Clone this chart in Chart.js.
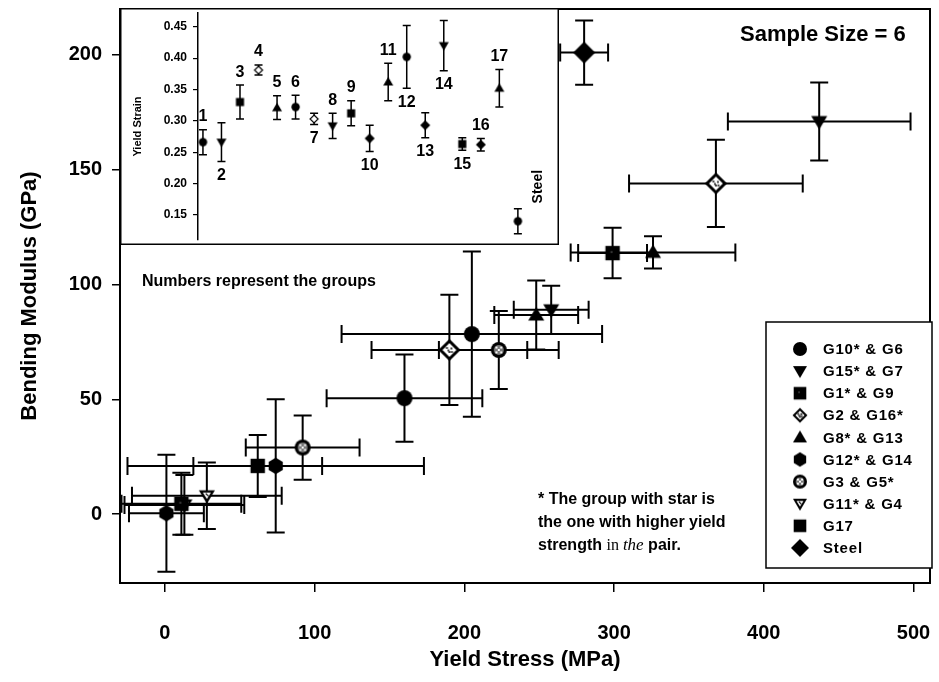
<!DOCTYPE html>
<html>
<head>
<meta charset="utf-8">
<script src="https://cdn.jsdelivr.net/npm/chart.js@4.4.1/dist/chart.umd.min.js"></script>
<style>
html, body { margin: 0; padding: 0; background: #fff; }
#wrap { position: relative; width: 939px; height: 682px; }
#main { position: absolute; left: 0; top: 0; }
#inset { position: absolute; left: 120px; top: 8px; }
</style>
</head>
<body>
<div id="wrap">
  <canvas id="main" width="939" height="682"></canvas>
  <canvas id="inset" width="439" height="237"></canvas>
</div>
<script>
// main plot: bending modulus vs yield stress, two groups per symbol
const seriesNames = ["G10* & G6", "G15* & G7", "G1* & G9", "G2 & G16*", "G8* & G13",
                     "G12* & G14", "G3 & G5*", "G11* & G4", "G17", "Steel"];
const stress     = [[160, 205], [258, 437], [11, 299], [190, 368], [248, 326], [1, 74], [92, 223], [28, 13], [62], [280]];
const stressErr  = [[52, 87], [25, 61], [40, 23], [52, 58], [28, 55], [25, 99], [38, 40], [50, 40], [43], [16]];
const modulus    = [[50.5, 78.4], [89, 171], [4.5, 113.7], [71.5, 144], [86.7, 114], [0.4, 21], [29, 71.5], [8, 4], [21], [201]];
const modulusErr = [[19, 36], [10.5, 17], [13.5, 11], [24, 19], [15, 7], [25.5, 29], [14, 17], [14.5, 13], [13.5], [14]];
const stressTicks = [0, 100, 200, 300, 400, 500];
const modulusTicks = [0, 50, 100, 150, 200];

// inset: yield strain per group
const groups = ["1", "2", "3", "4", "5", "6", "7", "8", "9", "10", "11", "12", "13", "14", "15", "16", "17", "Steel"];
const yieldStrain = [0.266, 0.266, 0.33, 0.381, 0.321, 0.322, 0.303, 0.292, 0.312, 0.272, 0.362, 0.402, 0.293, 0.42, 0.263, 0.262, 0.352, 0.14];
const strainErr   = [0.02, 0.031, 0.027, 0.008, 0.019, 0.019, 0.009, 0.02, 0.02, 0.021, 0.03, 0.05, 0.02, 0.04, 0.01, 0.01, 0.03, 0.02];
const strainTicks = [0.15, 0.20, 0.25, 0.30, 0.35, 0.40, 0.45];

const mainShapes = ["circle", "triDown", "squareTex", "diamondPat", "triUp", "hexagon", "circleDots", "triDownOpen", "square", "diamond"];
const insetShapes = ["circle", "triDown", "square", "diamondOpen", "triUp", "circle", "diamondOpen", "triDown", "square",
                     "diamond", "triUp", "circle", "diamond", "triDown", "square", "diamond", "triUp", "circle"];
const labelSide = ["up", "down", "up", "up", "up", "up", "down", "up", "up", "down", "up", "down", "down", "down", "down", "up", "up", "side"];

const FONT = "'Liberation Sans', Arial, Helvetica, sans-serif";
const SERIF = "'Liberation Serif', 'Times New Roman', serif";

function marker(shape, r) {
    const c = document.createElement("canvas");
    const s = Math.ceil(r * 2 + 4);
    c.width = s; c.height = s;
    const g = c.getContext("2d");
    const m = s / 2;
    g.fillStyle = "#000";
    g.strokeStyle = "#000";
    g.beginPath();
    if (shape === "circle") {
        g.arc(m, m, r, 0, Math.PI * 2);
        g.fill();
    } else if (shape === "hexagon") {
        for (let k = 0; k < 6; k++) {
            const a = -Math.PI / 2 + k * Math.PI / 3;
            g.lineTo(m + r * 1.02 * Math.cos(a), m + r * 1.02 * Math.sin(a));
        }
        g.closePath();
        g.fill();
    } else if (shape === "square" || shape === "squareTex") {
        const h = r * 0.9;
        g.fillRect(m - h, m - h, h * 2, h * 2);
        if (shape === "squareTex") {
            g.fillStyle = "#333";
            g.fillRect(m - h * 0.3, m - h * 0.3, h * 0.3, h * 0.3);
        }
    } else if (shape === "triDown" || shape === "triDownOpen") {
        g.moveTo(m - r, m - r * 0.7);
        g.lineTo(m + r, m - r * 0.7);
        g.lineTo(m, m + r);
        g.closePath();
        g.fill();
        if (shape === "triDownOpen") {
            g.beginPath();
            g.moveTo(m - r * 0.5, m - r * 0.4);
            g.lineTo(m + r * 0.5, m - r * 0.4);
            g.lineTo(m, m + r * 0.4);
            g.closePath();
            g.fillStyle = "#fff";
            g.fill();
            g.strokeStyle = "#000";
            g.lineWidth = 1.2;
            g.beginPath();
            g.moveTo(m - r * 0.15, m - r * 0.3);
            g.lineTo(m + r * 0.2, m + r * 0.05);
            g.stroke();
        }
    } else if (shape === "triUp") {
        g.moveTo(m - r, m + r * 0.7);
        g.lineTo(m + r, m + r * 0.7);
        g.lineTo(m, m - r);
        g.closePath();
        g.fill();
    } else if (shape === "diamond") {
        g.moveTo(m, m - r); g.lineTo(m + r, m); g.lineTo(m, m + r); g.lineTo(m - r, m);
        g.closePath();
        g.fill();
    } else if (shape === "diamondOpen" || shape === "diamondPat") {
        const rr = r - 1;
        g.moveTo(m, m - rr); g.lineTo(m + rr, m); g.lineTo(m, m + rr); g.lineTo(m - rr, m);
        g.closePath();
        g.fillStyle = "#fff";
        g.fill();
        g.lineWidth = shape === "diamondPat" ? Math.max(2, r * 0.3) : 1.2;
        g.stroke();
        if (shape === "diamondPat") {
            g.fillStyle = "#444";
            [[-0.25, -0.2], [0.2, -0.15], [0, 0.2], [-0.1, 0.05], [0.25, 0.2]].forEach(d => {
                g.fillRect(m + d[0] * r - 1, m + d[1] * r - 1, 2, 2);
            });
        }
    } else if (shape === "circleDots") {
        g.arc(m, m, r, 0, Math.PI * 2);
        g.fill();
        g.beginPath();
        g.arc(m, m, r * 0.62, 0, Math.PI * 2);
        g.fillStyle = "#777";
        g.fill();
        g.fillStyle = "#fff";
        [[-0.3, -0.3], [0.3, -0.3], [0, 0], [-0.3, 0.3], [0.3, 0.3]].forEach(d => {
            g.fillRect(m + d[0] * r - 1, m + d[1] * r - 1, 2, 2);
        });
    }
    return c;
}

const mainMarkers = mainShapes.map(s => marker(s, s === "diamond" ? 11 : (s === "diamondPat" ? 10 : 8)));
const legendMarkers = mainShapes.map(s => marker(s, s === "diamond" ? 9 : 7));

const mainDatasets = seriesNames.map((name, i) => ({
    label: name,
    data: stress[i].map((x, j) => ({ x: x, y: modulus[i][j], xErr: stressErr[i][j], yErr: modulusErr[i][j] })),
    pointStyle: mainMarkers[i],
    pointRadius: 8,
    showLine: false
}));

// no automatic label overflow padding, the plot box is fixed
function noPad(s) {
    s.paddingTop = 0; s.paddingBottom = 0; s.paddingLeft = 0; s.paddingRight = 0;
}

const errorBars = {
    id: "errorBars",
    beforeDatasetsDraw(chart, args, opts) {
        const { ctx, scales: { x, y } } = chart;
        const cap = opts.cap || 9;
        ctx.save();
        ctx.strokeStyle = "#000";
        ctx.lineWidth = opts.width || 2;
        chart.data.datasets.forEach(ds => {
            ds.data.forEach(p => {
                const px = x.getPixelForValue(p.x);
                const py = y.getPixelForValue(p.y);
                ctx.beginPath();
                if (p.xErr) {
                    const x0 = x.getPixelForValue(p.x - p.xErr);
                    const x1 = x.getPixelForValue(p.x + p.xErr);
                    ctx.moveTo(x0, py); ctx.lineTo(x1, py);
                    ctx.moveTo(x0, py - cap); ctx.lineTo(x0, py + cap);
                    ctx.moveTo(x1, py - cap); ctx.lineTo(x1, py + cap);
                }
                if (p.yErr) {
                    const y0 = y.getPixelForValue(p.y - p.yErr);
                    const y1 = y.getPixelForValue(p.y + p.yErr);
                    ctx.moveTo(px, y0); ctx.lineTo(px, y1);
                    ctx.moveTo(px - cap, y0); ctx.lineTo(px + cap, y0);
                    ctx.moveTo(px - cap, y1); ctx.lineTo(px + cap, y1);
                }
                ctx.stroke();
            });
        });
        ctx.restore();
    }
};

const mainDecor = {
    id: "mainDecor",
    beforeDraw(chart) {
        const ctx = chart.ctx;
        ctx.save();
        ctx.fillStyle = "#fff";
        ctx.fillRect(0, 0, chart.width, chart.height);
        ctx.restore();
    },
    afterDraw(chart) {
        const { ctx, chartArea: a } = chart;
        ctx.save();
        ctx.strokeStyle = "#000";
        ctx.lineWidth = 2;
        ctx.strokeRect(a.left, a.top, a.right - a.left, a.bottom - a.top);

        ctx.fillStyle = "#000";
        ctx.textBaseline = "middle";
        ctx.textAlign = "left";
        ctx.font = "bold 22px " + FONT;
        ctx.fillText("Sample Size = 6", 740, 35);
        ctx.font = "bold 16px " + FONT;
        ctx.fillText("Numbers represent the groups", 142, 282);

        // footnote
        ctx.font = "bold 16px " + FONT;
        ctx.fillText("* The group with star is", 538, 500);
        ctx.fillText("the one with higher yield", 538, 523);
        let tx = 538;
        const parts = [["strength ", "bold 16px " + FONT], ["in ", "16px " + SERIF], ["the", "italic 17px " + SERIF], [" pair.", "bold 16px " + FONT]];
        parts.forEach(p => {
            ctx.font = p[1];
            ctx.fillText(p[0], tx, 546);
            tx += ctx.measureText(p[0]).width;
        });

        // legend box
        ctx.fillStyle = "#fff";
        ctx.fillRect(766, 322, 166, 246);
        ctx.lineWidth = 1.5;
        ctx.strokeRect(766, 322, 166, 246);
        ctx.fillStyle = "#000";
        ctx.font = "bold 15px " + FONT;
        if ("letterSpacing" in ctx) ctx.letterSpacing = "0.8px";
        seriesNames.forEach((name, i) => {
            const yy = 349 + i * 22.1;
            const mk = legendMarkers[i];
            ctx.drawImage(mk, 800 - mk.width / 2, yy - mk.height / 2);
            ctx.fillText(name, 823, yy + 1);
        });
        ctx.restore();
    }
};

new Chart(document.getElementById("main"), {
    type: "scatter",
    data: { datasets: mainDatasets },
    options: {
        responsive: false,
        animation: false,
        layout: { padding: { top: 9, right: 6, left: 0, bottom: 0 } },
        plugins: {
            legend: { display: false },
            tooltip: { enabled: false },
            errorBars: { cap: 9, width: 2 }
        },
        scales: {
            x: {
                type: "linear",
                min: -30,
                max: 511,
                afterBuildTicks: s => { s.ticks = stressTicks.map(v => ({ value: v })); },
                afterFit: s => { s.height = 99; noPad(s); },
                grid: { drawOnChartArea: false, drawTicks: true, tickLength: 9, color: "#000", lineWidth: 1.5 },
                border: { color: "#000", width: 2 },
                ticks: { color: "#000", font: { family: FONT, size: 20, weight: "bold" }, padding: 29, maxRotation: 0 },
                title: { display: true, text: "Yield Stress (MPa)", color: "#000",
                         font: { family: FONT, size: 22, weight: "bold" }, padding: { top: 0, bottom: 9 } }
            },
            y: {
                type: "linear",
                min: -30,
                max: 220,
                afterBuildTicks: s => { s.ticks = modulusTicks.map(v => ({ value: v })); },
                afterFit: s => { s.width = 120; noPad(s); },
                grid: { drawOnChartArea: false, drawTicks: true, tickLength: 8, color: "#000", lineWidth: 1.5 },
                border: { color: "#000", width: 2 },
                ticks: { color: "#000", font: { family: FONT, size: 20, weight: "bold" }, padding: 10 },
                title: { display: true, text: "Bending Modulus (GPa)", color: "#000",
                         font: { family: FONT, size: 22, weight: "bold" }, padding: { top: 17, bottom: 0 } }
            }
        }
    },
    plugins: [errorBars, mainDecor]
});

// ---- inset ----
const insetMarkers = insetShapes.map(s => marker(s, s === "square" ? 4.5 : (s === "circle" ? 4.2 : 5)));

const insetData = groups.map((g, i) => ({ x: i + 1, y: yieldStrain[i], yErr: strainErr[i] }));

const insetDecor = {
    id: "insetDecor",
    beforeDraw(chart) {
        const ctx = chart.ctx;
        ctx.save();
        ctx.fillStyle = "#fff";
        ctx.fillRect(0, 0, chart.width, chart.height);
        ctx.restore();
    },
    afterDraw(chart) {
        const { ctx, scales: { x, y } } = chart;
        ctx.save();
        ctx.strokeStyle = "#000";
        ctx.lineWidth = 1.5;
        ctx.strokeRect(0.75, 0.75, chart.width - 1.5, chart.height - 1.5);

        ctx.fillStyle = "#000";
        ctx.font = "bold 16px " + FONT;
        ctx.textAlign = "center";
        ctx.textBaseline = "middle";
        groups.forEach((g, i) => {
            const px = x.getPixelForValue(i + 1);
            const top = y.getPixelForValue(yieldStrain[i] + strainErr[i]);
            const bot = y.getPixelForValue(yieldStrain[i] - strainErr[i]);
            if (labelSide[i] === "up") {
                ctx.fillText(g, px, top - 13);
            } else if (labelSide[i] === "down") {
                ctx.fillText(g, px, bot + 14);
            } else {
                ctx.save();
                ctx.font = "bold 14px " + FONT;
                ctx.translate(px + 20, top - 22);
                ctx.rotate(-Math.PI / 2);
                ctx.fillText(g, 0, 0);
                ctx.restore();
            }
        });
        ctx.restore();
    }
};

new Chart(document.getElementById("inset"), {
    type: "scatter",
    data: {
        datasets: [{
            label: "Yield Strain",
            data: insetData,
            pointStyle: insetMarkers,
            pointRadius: 4,
            showLine: false
        }]
    },
    options: {
        responsive: false,
        animation: false,
        layout: { padding: { top: 2, right: 1, left: 0, bottom: 1 } },
        plugins: {
            legend: { display: false },
            tooltip: { enabled: false },
            errorBars: { cap: 4, width: 1.5 }
        },
        scales: {
            x: { type: "linear", min: 0.733, max: 19.95, display: false },
            y: {
                type: "linear",
                min: 0.11,
                max: 0.472,
                afterBuildTicks: s => { s.ticks = strainTicks.map(v => ({ value: v })); },
                afterFit: s => { s.width = 78; noPad(s); },
                grid: { drawOnChartArea: false, drawTicks: true, tickLength: 5, color: "#000", lineWidth: 1.2 },
                border: { color: "#000", width: 1.5 },
                ticks: { color: "#000", font: { family: FONT, size: 12, weight: "bold" }, padding: 6,
                         callback: v => v.toFixed(2) },
                title: { display: true, text: "Yield Strain", color: "#000",
                         font: { family: FONT, size: 11, weight: "bold" }, padding: { top: 11, bottom: 0 } }
            }
        }
    },
    plugins: [errorBars, insetDecor]
});
</script>
</body>
</html>
